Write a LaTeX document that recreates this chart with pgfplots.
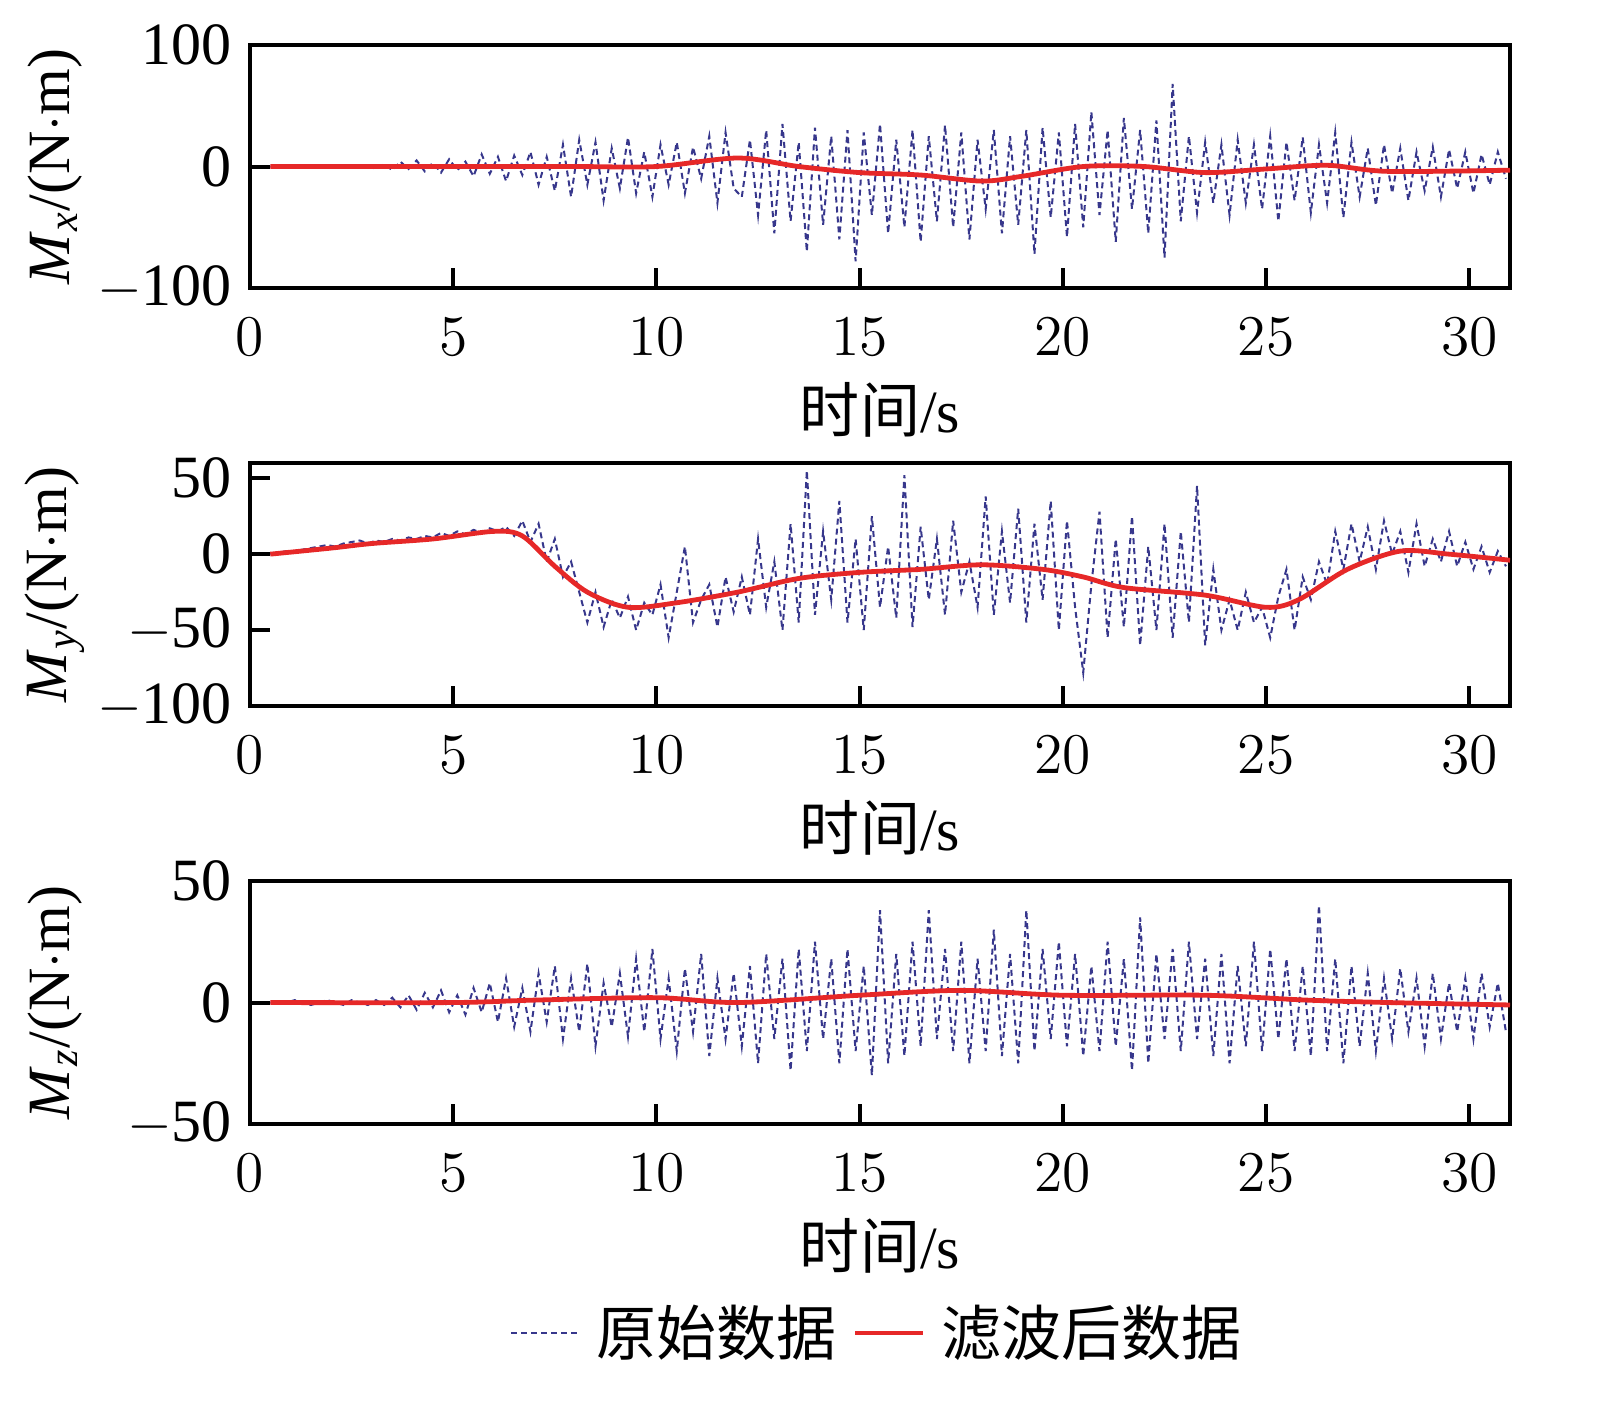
\documentclass[border=0pt]{standalone}
\usepackage{pgfplots}
\usepackage{pgfplotstable}
\usepackage{fontspec}
\setmainfont{Liberation Serif}
\newfontfamily\cjk{Noto Sans CJK SC}
\pgfplotsset{compat=1.18}
\definecolor{rawc}{RGB}{55,55,140}
\definecolor{filc}{RGB}{230,40,40}
\pgfplotstableread[row sep=\\]{y\\0\\0\\1\\0\\-1\\0\\1\\0\\-1\\1\\0\\-1\\1\\-2\\2\\-3\\4\\-2\\5\\-4\\3\\-5\\6\\-3\\4\\-8\\10\\-6\\8\\-12\\9\\-7\\12\\-15\\8\\-20\\18\\-25\\22\\-15\\20\\-28\\15\\-18\\24\\-22\\12\\-25\\18\\-15\\20\\-22\\16\\-10\\25\\-30\\28\\-18\\-25\\22\\-40\\30\\-55\\35\\-45\\20\\-70\\32\\-48\\25\\-60\\30\\-78\\28\\-40\\35\\-55\\22\\-50\\30\\-62\\25\\-45\\34\\-50\\28\\-60\\22\\-35\\30\\-55\\25\\-48\\30\\-72\\32\\-42\\28\\-58\\35\\-50\\45\\-40\\30\\-62\\40\\-35\\30\\-55\\38\\-75\\68\\-45\\25\\-38\\20\\-30\\18\\-40\\22\\-30\\18\\-35\\25\\-45\\20\\-28\\24\\-38\\18\\-30\\28\\-42\\20\\-25\\15\\-32\\18\\-22\\15\\-28\\12\\-20\\16\\-25\\14\\-18\\12\\-22\\10\\-15\\12\\-10\\}\MxRaw
\pgfplotstableread[row sep=\\]{y\\0\\1\\2\\2\\3\\4\\5\\6\\5\\7\\8\\9\\7\\9\\8\\10\\9\\11\\10\\12\\11\\14\\12\\15\\13\\16\\14\\17\\15\\18\\12\\22\\8\\20\\-5\\10\\-15\\-5\\-25\\-45\\-25\\-48\\-30\\-42\\-28\\-50\\-32\\-40\\-20\\-55\\-25\\5\\-45\\-30\\-20\\-48\\-15\\-38\\-15\\-40\\10\\-35\\-5\\-50\\20\\-45\\55\\-40\\15\\-30\\35\\-45\\10\\-50\\25\\-35\\5\\-42\\52\\-48\\18\\-30\\10\\-40\\22\\-25\\-5\\-35\\38\\-40\\15\\-32\\30\\-45\\20\\-30\\35\\-50\\22\\-35\\-78\\-20\\28\\-55\\10\\-48\\25\\-60\\5\\-50\\20\\-55\\15\\-45\\45\\-60\\-10\\-50\\-30\\-50\\-25\\-45\\-35\\-55\\-28\\-10\\-50\\-15\\-30\\-5\\-20\\15\\-10\\20\\-5\\18\\-10\\22\\0\\15\\-12\\20\\-8\\10\\-5\\15\\-8\\8\\-10\\5\\-12\\2\\-8\\}\MyRaw
\pgfplotstableread[row sep=\\]{y\\0\\0\\0\\1\\0\\-1\\0\\1\\0\\-1\\1\\0\\-1\\1\\-1\\2\\-2\\3\\-3\\4\\-2\\5\\-4\\3\\-5\\6\\-4\\8\\-8\\10\\-10\\6\\-12\\12\\-8\\15\\-15\\10\\-12\\16\\-18\\8\\-10\\12\\-14\\18\\-12\\22\\-15\\10\\-20\\14\\-12\\20\\-22\\10\\-15\\12\\-18\\15\\-25\\20\\-15\\18\\-28\\22\\-20\\25\\-15\\18\\-25\\22\\-20\\15\\-30\\38\\-25\\20\\-22\\25\\-18\\38\\-15\\22\\-20\\25\\-25\\18\\-20\\30\\-22\\20\\-25\\38\\-20\\22\\-15\\25\\-18\\20\\-22\\15\\-20\\25\\-18\\18\\-28\\35\\-25\\20\\-15\\22\\-20\\25\\-15\\18\\-22\\20\\-25\\15\\-18\\25\\-20\\22\\-15\\18\\-20\\15\\-22\\40\\-20\\18\\-25\\15\\-18\\12\\-20\\10\\-15\\14\\-12\\10\\-18\\12\\-15\\8\\-12\\10\\-15\\12\\-10\\8\\-12\\}\MzRaw
\pgfplotsset{
  myax/.style={width=315pt,height=60.75pt,scale only axis,
    xmin=0,xmax=31,xtick={0,5,...,30},
    axis line style={line width=1pt},
    tick style={line width=1pt,black},major tick length=5pt,
    tick align=inside,xtick pos=bottom,ytick pos=left,
    ticklabel style={font=\fontsize{15}{18}\selectfont},
    xticklabel style={yshift=-4pt},
    yticklabel style={xshift=-1pt},
    label style={font=\fontsize{15}{18}\selectfont},
    xlabel={{\cjk 时间}/s},
    xlabel style={at={(axis description cs:0.5,-0.50)},anchor=center},
    ylabel style={at={(axis description cs:-0.155,0.5)},anchor=center},
    clip=true},
  rawp/.style={rawc,line width=0.5pt,dash pattern=on 1.5pt off 1pt},
  filp/.style={filc,line width=1.2pt,smooth}
}
\begin{document}
\begin{tikzpicture}
\begin{axis}[myax,at={(0,0)},ymin=-100,ymax=100,ytick={-100,0,100},yticklabels={$-$100,0,100},
  ylabel={\textit{M}\textsubscript{\textit{x}}/(N$\cdot$m)}]
\addplot[rawp] table[x expr=0.5+\coordindex*0.2,y=y]{\MxRaw};
\addplot[filp] coordinates {(0.5,0)(5,0)(8,0)(10,0)(12,7)(13.5,0)(15,-5)(16.5,-7)(18,-12)(19,-8)(20.5,0)(22,0)(23.5,-5)(25,-2)(26.5,1)(28,-4)(31,-3)};
\end{axis}
\begin{axis}[myax,at={(0,-104.5pt)},ymin=-100,ymax=60,ytick={-100,-50,0,50},yticklabels={$-$100,$-$50,0,50},
  ylabel={\textit{M}\textsubscript{\textit{y}}/(N$\cdot$m)}]
\addplot[rawp] table[x expr=0.5+\coordindex*0.2,y=y]{\MyRaw};
\addplot[filp] coordinates {(0.5,0)(2,4)(3,7)(4.5,10)(6,15)(6.7,12)(7.5,-8)(8.3,-25)(9.3,-35)(10.5,-32)(12,-25)(13.5,-16)(15,-12)(16.5,-10)(18,-7)(19.5,-10)(20.5,-15)(21.5,-22)(23.5,-27)(25,-35)(25.8,-30)(27,-10)(28.3,2)(29.5,0)(31,-4)};
\end{axis}
\begin{axis}[myax,at={(0,-209pt)},ymin=-50,ymax=50,ytick={-50,0,50},yticklabels={$-$50,0,50},
  ylabel={\textit{M}\textsubscript{\textit{z}}/(N$\cdot$m)},
  legend columns=2,
  legend style={at={(0.5,-0.86)},anchor=center,draw=none,fill=none,
    font=\fontsize{15}{18}\selectfont\cjk,column sep=2pt},
  legend cell align=left]
\addplot[rawp] table[x expr=0.5+\coordindex*0.2,y=y]{\MzRaw};
\addlegendentry{原始数据}
\addplot[filp] coordinates {(0.5,0)(5,0)(7,1)(10,2)(12,0)(15,3)(17.5,5)(20,3)(23.5,3)(26,1)(28,0)(31,-1)};
\addlegendentry{滤波后数据}
\end{axis}
\pgfresetboundingbox
\path (-62.5pt,-282.5pt) rectangle (340.75pt,72pt);
\end{tikzpicture}
\end{document}
